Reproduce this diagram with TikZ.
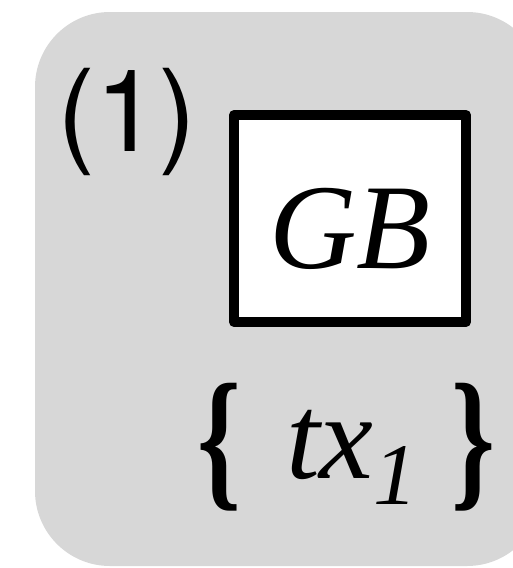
\documentclass[tikz,border=0pt]{standalone}
\usepackage{fontspec}
\setmainfont{Liberation Serif}
\newfontfamily\numfont{TeX Gyre Heros}
\definecolor{panelgray}{RGB}{215,215,215}
\tikzset{
  gbbox/.style={draw, line width=0.2cm, line join=round, fill=white,
    minimum width=4.64cm, minimum height=4.14cm, inner sep=0pt},
  bigtext/.style={inner sep=0pt, anchor=base, font=\fontsize{69}{80}\selectfont\itshape},
  brace/.style={inner sep=0pt, font=\fontsize{88}{90}\selectfont\bfseries}
}
\begin{document}
\begin{tikzpicture}[x=0.02cm, y=-0.02cm]
    \useasboundingbox (0,0) rectangle (513,568);
    \clip (0,0) rectangle (513,568);

    % Draw the grey panel
    \fill[panelgray, rounded corners=1.5cm] (35,12) rectangle (542,566);

    % Number of the panel
    \node[inner sep=0pt, anchor=base west, font=\numfont\fontsize{65}{78}\selectfont] (num) at (57,151) {(1)};

    % The box and its label
    \node[gbbox] (box) at (350,218.5) {};
    \node[bigtext] (gb) at (350,268) {GB};

    % The set below the box
    \node[bigtext] (set) at (352,478) {tx\raisebox{-0.22em}{\fontsize{50}{60}\selectfont 1}};
    \node[brace] (lbrace) at (219,447) {\scalebox{0.72}[1]{\{}};
    \node[brace] (rbrace) at (473.5,447) {\scalebox{0.72}[1]{\}}};
\end{tikzpicture}
\end{document}
